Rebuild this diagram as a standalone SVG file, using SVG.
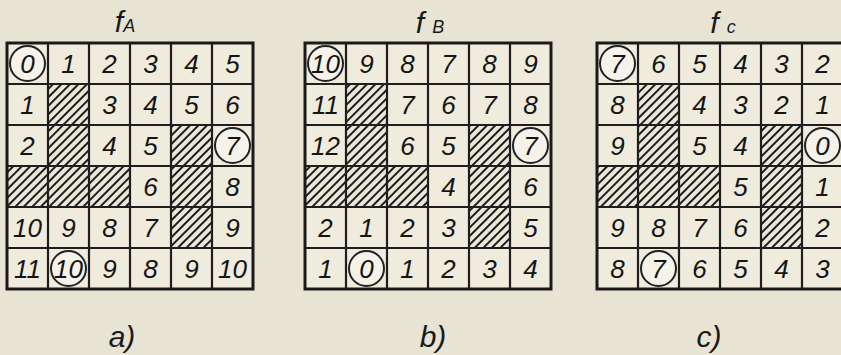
<svg xmlns="http://www.w3.org/2000/svg" width="841" height="355" viewBox="0 0 841 355">
<defs>
<pattern id="hatch" patternUnits="userSpaceOnUse" width="6" height="6" patternTransform="rotate(45)">
<rect width="6" height="6" fill="#ebe7d9"/>
<line x1="1" y1="0" x2="1" y2="6" stroke="#1e1e1e" stroke-width="2"/>
</pattern>
<style>
.bg{fill:#efebdd}
.h{fill:url(#hatch)}
.ln{fill:none;stroke:#1e1e1e;stroke-width:2.2}
.bd{fill:none;stroke:#1a1a1a;stroke-width:3}
.c{fill:#f4f2e9;stroke:#222;stroke-width:2}
.n{font-family:"Liberation Sans",sans-serif;font-style:italic;font-size:26px;text-anchor:middle;fill:#151515}
.t{font-family:"Liberation Sans",sans-serif;font-style:italic;font-size:30px;text-anchor:middle;fill:#1a1a1a}
.s{font-size:18px}
.lab{font-family:"Liberation Sans",sans-serif;font-style:italic;font-size:30px;text-anchor:middle;fill:#1a1a1a}
</style>
</defs>
<rect width="841" height="355" fill="#e8e4d4"/>

<g id="gridA">
<rect class="bg" x="7" y="43" width="246" height="246"/>
<rect class="h" x="48" y="84" width="41" height="41"/>
<rect class="h" x="48" y="125" width="41" height="41"/>
<rect class="h" x="171" y="125" width="41" height="41"/>
<rect class="h" x="7" y="166" width="41" height="41"/>
<rect class="h" x="48" y="166" width="41" height="41"/>
<rect class="h" x="89" y="166" width="41" height="41"/>
<rect class="h" x="171" y="166" width="41" height="41"/>
<rect class="h" x="171" y="207" width="41" height="41"/>
<path class="ln" d="M48 43V289M89 43V289M130 43V289M171 43V289M212 43V289M7 84H253M7 125H253M7 166H253M7 207H253M7 248H253"/>
<rect class="bd" x="7" y="43" width="246" height="246"/>
<circle class="c" cx="27.5" cy="63.5" r="17.5"/>
<circle class="c" cx="232.5" cy="145.5" r="17.5"/>
<circle class="c" cx="68.5" cy="268.5" r="17.5"/>
<text class="t" x="125" y="32">f<tspan class="s">A</tspan></text>
<text class="n" x="27.5" y="73">0</text><text class="n" x="68.5" y="73">1</text><text class="n" x="109.5" y="73">2</text><text class="n" x="150.5" y="73">3</text><text class="n" x="191.5" y="73">4</text><text class="n" x="232.5" y="73">5</text>
<text class="n" x="27.5" y="114">1</text><text class="n" x="109.5" y="114">3</text><text class="n" x="150.5" y="114">4</text><text class="n" x="191.5" y="114">5</text><text class="n" x="232.5" y="114">6</text>
<text class="n" x="27.5" y="155">2</text><text class="n" x="109.5" y="155">4</text><text class="n" x="150.5" y="155">5</text><text class="n" x="232.5" y="155">7</text>
<text class="n" x="150.5" y="196">6</text><text class="n" x="232.5" y="196">8</text>
<text class="n" x="27.5" y="237">10</text><text class="n" x="68.5" y="237">9</text><text class="n" x="109.5" y="237">8</text><text class="n" x="150.5" y="237">7</text><text class="n" x="232.5" y="237">9</text>
<text class="n" x="27.5" y="278">11</text><text class="n" x="68.5" y="278">10</text><text class="n" x="109.5" y="278">9</text><text class="n" x="150.5" y="278">8</text><text class="n" x="191.5" y="278">9</text><text class="n" x="232.5" y="278">10</text>
<text class="lab" x="122" y="347">a)</text>
</g>

<g id="gridB">
<rect class="bg" x="305" y="43" width="246" height="246"/>
<rect class="h" x="346" y="84" width="41" height="41"/>
<rect class="h" x="346" y="125" width="41" height="41"/>
<rect class="h" x="469" y="125" width="41" height="41"/>
<rect class="h" x="305" y="166" width="41" height="41"/>
<rect class="h" x="346" y="166" width="41" height="41"/>
<rect class="h" x="387" y="166" width="41" height="41"/>
<rect class="h" x="469" y="166" width="41" height="41"/>
<rect class="h" x="469" y="207" width="41" height="41"/>
<path class="ln" d="M346 43V289M387 43V289M428 43V289M469 43V289M510 43V289M305 84H551M305 125H551M305 166H551M305 207H551M305 248H551"/>
<rect class="bd" x="305" y="43" width="246" height="246"/>
<circle class="c" cx="325.5" cy="63.5" r="17.5"/>
<circle class="c" cx="530.5" cy="145.5" r="17.5"/>
<circle class="c" cx="366.5" cy="268.5" r="17.5"/>
<text class="t" x="430" y="33">f <tspan class="s">B</tspan></text>
<text class="n" x="325.5" y="73">10</text><text class="n" x="366.5" y="73">9</text><text class="n" x="407.5" y="73">8</text><text class="n" x="448.5" y="73">7</text><text class="n" x="489.5" y="73">8</text><text class="n" x="530.5" y="73">9</text>
<text class="n" x="325.5" y="114">11</text><text class="n" x="407.5" y="114">7</text><text class="n" x="448.5" y="114">6</text><text class="n" x="489.5" y="114">7</text><text class="n" x="530.5" y="114">8</text>
<text class="n" x="325.5" y="155">12</text><text class="n" x="407.5" y="155">6</text><text class="n" x="448.5" y="155">5</text><text class="n" x="530.5" y="155">7</text>
<text class="n" x="448.5" y="196">4</text><text class="n" x="530.5" y="196">6</text>
<text class="n" x="325.5" y="237">2</text><text class="n" x="366.5" y="237">1</text><text class="n" x="407.5" y="237">2</text><text class="n" x="448.5" y="237">3</text><text class="n" x="530.5" y="237">5</text>
<text class="n" x="325.5" y="278">1</text><text class="n" x="366.5" y="278">0</text><text class="n" x="407.5" y="278">1</text><text class="n" x="448.5" y="278">2</text><text class="n" x="489.5" y="278">3</text><text class="n" x="530.5" y="278">4</text>
<text class="lab" x="433" y="347">b)</text>
</g>

<g id="gridC">
<rect class="bg" x="597" y="43" width="246" height="246"/>
<rect class="h" x="638" y="84" width="41" height="41"/>
<rect class="h" x="638" y="125" width="41" height="41"/>
<rect class="h" x="761" y="125" width="41" height="41"/>
<rect class="h" x="597" y="166" width="41" height="41"/>
<rect class="h" x="638" y="166" width="41" height="41"/>
<rect class="h" x="679" y="166" width="41" height="41"/>
<rect class="h" x="761" y="166" width="41" height="41"/>
<rect class="h" x="761" y="207" width="41" height="41"/>
<path class="ln" d="M638 43V289M679 43V289M720 43V289M761 43V289M802 43V289M597 84H843M597 125H843M597 166H843M597 207H843M597 248H843"/>
<rect class="bd" x="597" y="43" width="246" height="246"/>
<circle class="c" cx="617.5" cy="63.5" r="17.5"/>
<circle class="c" cx="822.5" cy="145.5" r="17.5"/>
<circle class="c" cx="658.5" cy="268.5" r="17.5"/>
<text class="t" x="723" y="33">f <tspan class="s">c</tspan></text>
<text class="n" x="617.5" y="73">7</text><text class="n" x="658.5" y="73">6</text><text class="n" x="699.5" y="73">5</text><text class="n" x="740.5" y="73">4</text><text class="n" x="781.5" y="73">3</text><text class="n" x="822.5" y="73">2</text>
<text class="n" x="617.5" y="114">8</text><text class="n" x="699.5" y="114">4</text><text class="n" x="740.5" y="114">3</text><text class="n" x="781.5" y="114">2</text><text class="n" x="822.5" y="114">1</text>
<text class="n" x="617.5" y="155">9</text><text class="n" x="699.5" y="155">5</text><text class="n" x="740.5" y="155">4</text><text class="n" x="822.5" y="155">0</text>
<text class="n" x="740.5" y="196">5</text><text class="n" x="822.5" y="196">1</text>
<text class="n" x="617.5" y="237">9</text><text class="n" x="658.5" y="237">8</text><text class="n" x="699.5" y="237">7</text><text class="n" x="740.5" y="237">6</text><text class="n" x="822.5" y="237">2</text>
<text class="n" x="617.5" y="278">8</text><text class="n" x="658.5" y="278">7</text><text class="n" x="699.5" y="278">6</text><text class="n" x="740.5" y="278">5</text><text class="n" x="781.5" y="278">4</text><text class="n" x="822.5" y="278">3</text>
<text class="lab" x="709" y="347">c)</text>
</g>
</svg>
